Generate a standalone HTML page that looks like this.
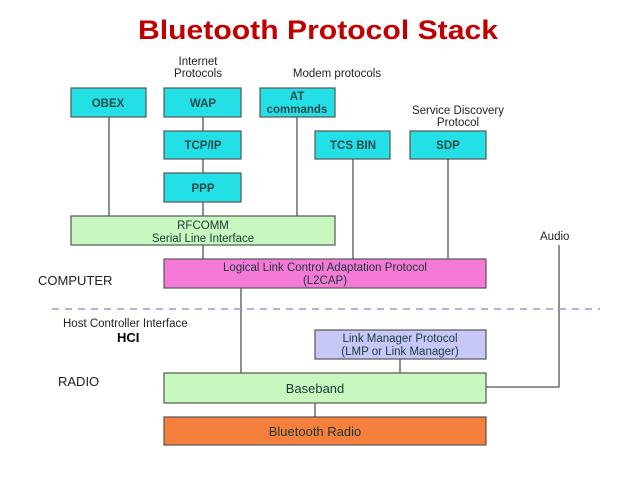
<!DOCTYPE html>
<html><head><style>body{margin:0;background:#fff}svg{display:block}</style></head><body>
<svg width="638" height="479" xmlns="http://www.w3.org/2000/svg" font-family="Liberation Sans, Arial, sans-serif">
<text x="318" y="39" text-anchor="middle" font-size="27" font-weight="bold" fill="#c00000" textLength="360" lengthAdjust="spacingAndGlyphs">Bluetooth Protocol Stack</text>
<g stroke="#555" stroke-width="1.3" fill="none">
<line x1="109" y1="117" x2="109" y2="216"/>
<line x1="203" y1="117" x2="203" y2="216"/>
<line x1="297" y1="117" x2="297" y2="216"/>
<line x1="353" y1="159" x2="353" y2="259"/>
<line x1="448" y1="159" x2="448" y2="259"/>
<line x1="203" y1="245" x2="203" y2="259"/>
<line x1="241" y1="288" x2="241" y2="373"/>
<line x1="400" y1="359" x2="400" y2="373"/>
<line x1="315" y1="403" x2="315" y2="417"/>
<polyline points="486,387 559,387 559,245"/>
</g>
<line x1="52" y1="309" x2="600" y2="309" stroke="#9a9ad8" stroke-width="1.5" stroke-dasharray="7,6"/>
<g stroke="#555" stroke-width="1.2">
<rect x="71" y="88" width="75" height="29" fill="#22e0e6"/>
<rect x="164" y="88" width="77" height="29" fill="#22e0e6"/>
<rect x="260" y="88" width="75" height="29" fill="#22e0e6"/>
<rect x="164" y="131" width="77" height="28" fill="#22e0e6"/>
<rect x="315" y="131" width="75" height="28" fill="#22e0e6"/>
<rect x="410" y="131" width="76" height="28" fill="#22e0e6"/>
<rect x="164" y="173" width="77" height="29" fill="#22e0e6"/>
<rect x="71" y="216" width="264" height="29" fill="#c8f8c0"/>
<rect x="164" y="259" width="322" height="29" fill="#f57ad8"/>
<rect x="315" y="330" width="171" height="29" fill="#c8c8f8"/>
<rect x="164" y="373" width="322" height="30" fill="#c8f8c0"/>
<rect x="164" y="417" width="322" height="28" fill="#f5803e"/>
</g>
<g font-size="11.5" fill="#1a3838" text-anchor="middle">
<g font-weight="bold" fill="#2a4a4a">
<text x="108" y="107">OBEX</text>
<text x="203" y="107">WAP</text>
<text x="297" y="100">AT</text>
<text x="297" y="113">commands</text>
<text x="203" y="149">TCP/IP</text>
<text x="353" y="149">TCS BIN</text>
<text x="448" y="149">SDP</text>
<text x="203" y="192">PPP</text>
</g>
<text x="203" y="229">RFCOMM</text>
<text x="203" y="242">Serial Line Interface</text>
<text x="325" y="271">Logical Link Control Adaptation Protocol</text>
<text x="325" y="284">(L2CAP)</text>
<text x="400" y="342">Link Manager Protocol</text>
<text x="400" y="355">(LMP or Link Manager)</text>
<text x="315" y="393" font-size="13">Baseband</text>
<text x="315" y="436" font-size="13">Bluetooth Radio</text>
</g>
<g font-size="11.5" fill="#222">
<text x="198" y="65" text-anchor="middle">Internet</text>
<text x="198" y="77" text-anchor="middle">Protocols</text>
<text x="337" y="77" text-anchor="middle">Modem protocols</text>
<text x="458" y="114" text-anchor="middle">Service Discovery</text>
<text x="458" y="126" text-anchor="middle">Protocol</text>
<text x="540" y="240">Audio</text>
<text x="38" y="285" font-size="13">COMPUTER</text>
<text x="63" y="327">Host Controller Interface</text>
<text x="117" y="342" font-size="13" font-weight="bold" fill="#000">HCI</text>
<text x="58" y="386" font-size="13">RADIO</text>
</g>
</svg>
</body></html>
